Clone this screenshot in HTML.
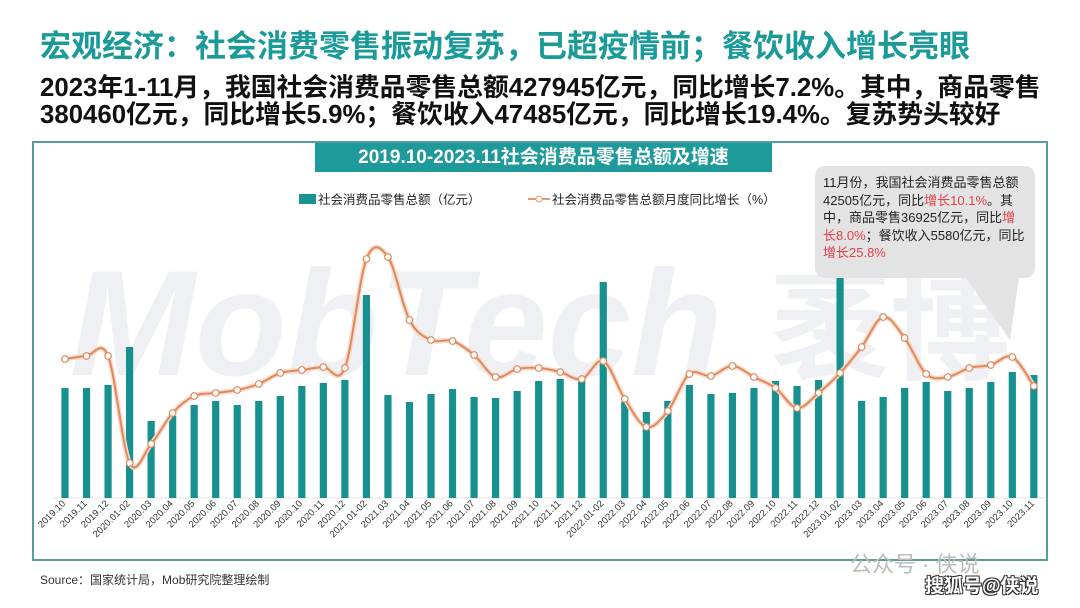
<!DOCTYPE html>
<html><head><meta charset="utf-8"><style>
body{margin:0;width:1080px;height:608px;background:#fff;overflow:hidden;position:relative;font-family:"Liberation Sans","Noto Sans CJK SC",sans-serif}
.t{position:absolute;left:40px;top:27px;font-size:31px;font-weight:bold;color:#1a9b9a;white-space:nowrap;line-height:40px}
.s{position:absolute;left:40px;top:75px;font-size:25.8px;font-weight:bold;color:#111;line-height:27px;white-space:nowrap}
.box{position:absolute;left:32px;top:141px;width:1016px;height:420px;border:2px solid #5a9c9c;box-sizing:border-box}
.ban{position:absolute;left:315px;top:143px;width:457px;height:29px;background:#1f9a9a;color:#fff;font-size:19px;font-weight:bold;text-align:center;line-height:29px;white-space:nowrap}
.src{position:absolute;left:40px;top:571px;font-size:12px;color:#333}
.callout{position:absolute;left:815px;top:166px;width:220px;height:112px;background:#e3e3e3;border-radius:10px;font-size:13px;line-height:17.5px;color:#222;padding:8px 8px;box-sizing:border-box}
.callout b{font-weight:normal;color:#e5404a}
</style></head><body>
<div class="t">宏观经济：社会消费零售振动复苏，已超疫情前；餐饮收入增长亮眼</div>
<div class="s">2023年1-11月，我国社会消费品零售总额427945亿元，同比增长7.2%。其中，商品零售<br>380460亿元，同比增长5.9%；餐饮收入47485亿元，同比增长19.4%。复苏势头较好</div>
<div class="box"></div>
<svg style="position:absolute;left:0;top:0" width="1080" height="608">
<text x="70" y="375" font-size="150" font-weight="bold" font-style="italic" fill="#eef0f3" font-family="Liberation Sans">MobTech</text>
<text x="770" y="370" font-size="120" font-weight="bold" fill="#eef0f3" font-family="Noto Sans CJK SC">袤博</text>
<polygon points="960,270 1020,270 1010,340" fill="#e3e3e3"/>
<rect x="299" y="194" width="17" height="10" fill="#1a9493"/>
<text x="318" y="204" font-size="12.5" fill="#222">社会消费品零售总额（亿元）</text>
<line x1="528" y1="199" x2="550" y2="199" stroke="#e8996e" stroke-width="2"/>
<circle cx="539" cy="199" r="3" fill="#fff" stroke="#e8996e"/>
<text x="552" y="204" font-size="12.5" fill="#222">社会消费品零售总额月度同比增长（%）</text>
<line x1="52" y1="498" x2="1045" y2="498" stroke="#e4e4e4"/>
<g fill="#16918f" id="bars"></g>
<g id="labs" font-size="9.5" fill="#333"></g>
<g id="line"></g>
</svg>
<div class="ban">2019.10-2023.11社会消费品零售总额及增速</div>
<div class="callout">11月份，我国社会消费品零售总额42505亿元，同比<b>增长10.1%</b>。其中，商品零售36925亿元，同比<b>增长8.0%</b>；餐饮收入5580亿元，同比<b>增长25.8%</b></div>
<div class="src">Source：国家统计局，Mob研究院整理绘制</div>
<div style="position:absolute;left:850px;top:547px;font-size:22px;color:#bbb">公众号 · 侠说</div>
<div style="position:absolute;left:925px;top:571px;font-size:19px;font-weight:bold;color:#fff;text-shadow:1px 1px 0 #333,-1px -1px 0 #333,1px -1px 0 #333,-1px 1px 0 #333">搜狐号@侠说</div>
<script>
var labels=["2019.10","2019.11","2019.12","2020.01-02"];
for(var m=3;m<=12;m++)labels.push("2020."+(m<10?"0":"")+m);
labels.push("2021.01-02");for(m=3;m<=12;m++)labels.push("2021."+(m<10?"0":"")+m);
labels.push("2022.01-02");for(m=3;m<=12;m++)labels.push("2022."+(m<10?"0":"")+m);
labels.push("2023.01-02");for(m=3;m<=11;m++)labels.push("2023."+(m<10?"0":"")+m);
var bt=[388,388,385,347,421,416,405,401,405,401,396,386,383,380,295,395,402,394,389,397,398,391,381,379,381,282,402,412,401,385,394,393,388,381,386,380,273,401,397,388,382,391,388,382,372,375];
var ly=[359,356,356,463,444,413,396,393,390,384,373,370,367,368,259,257,320,340,341,355,377,369,368,372,379,361,399,427,411,374,376,366,377,388,408,393,373,347,317,338,374,377,368,365,357,386];
var ns="http://www.w3.org/2000/svg",B=document.getElementById("bars"),L=document.getElementById("labs"),G=document.getElementById("line");
var pts=[];
for(var i=0;i<46;i++){var x=65+i*21.53;
var r=document.createElementNS(ns,"rect");r.setAttribute("x",x-3.6);r.setAttribute("y",bt[i]);r.setAttribute("width",7.2);r.setAttribute("height",498-bt[i]);B.appendChild(r);
var t=document.createElementNS(ns,"text");t.setAttribute("text-anchor","end");t.setAttribute("transform","translate("+(x+1)+",504) rotate(-45)");t.textContent=labels[i];L.appendChild(t);
pts.push([x,ly[i]]);}
var d="M"+pts[0][0]+","+pts[0][1];
for(i=0;i<pts.length-1;i++){var p0=pts[Math.max(i-1,0)],p1=pts[i],p2=pts[i+1],p3=pts[Math.min(i+2,pts.length-1)];
d+=" C"+(p1[0]+(p2[0]-p0[0])/6)+","+(p1[1]+(p2[1]-p0[1])/6)+" "+(p2[0]-(p3[0]-p1[0])/6)+","+(p2[1]-(p3[1]-p1[1])/6)+" "+p2[0]+","+p2[1];}
var pa=document.createElementNS(ns,"path");pa.setAttribute("d",d);pa.setAttribute("fill","none");pa.setAttribute("stroke","#fbd9c8");pa.setAttribute("stroke-width","5");G.appendChild(pa);
var pb=document.createElementNS(ns,"path");pb.setAttribute("d",d);pb.setAttribute("fill","none");pb.setAttribute("stroke","#dd8a5f");pb.setAttribute("stroke-width","2");G.appendChild(pb);
pts.forEach(function(p){var c=document.createElementNS(ns,"circle");c.setAttribute("cx",p[0]);c.setAttribute("cy",p[1]);c.setAttribute("r",3.3);c.setAttribute("fill","#fff");c.setAttribute("stroke","#dd8a5f");c.setAttribute("stroke-width","1.2");G.appendChild(c);});
</script>
</body></html>
